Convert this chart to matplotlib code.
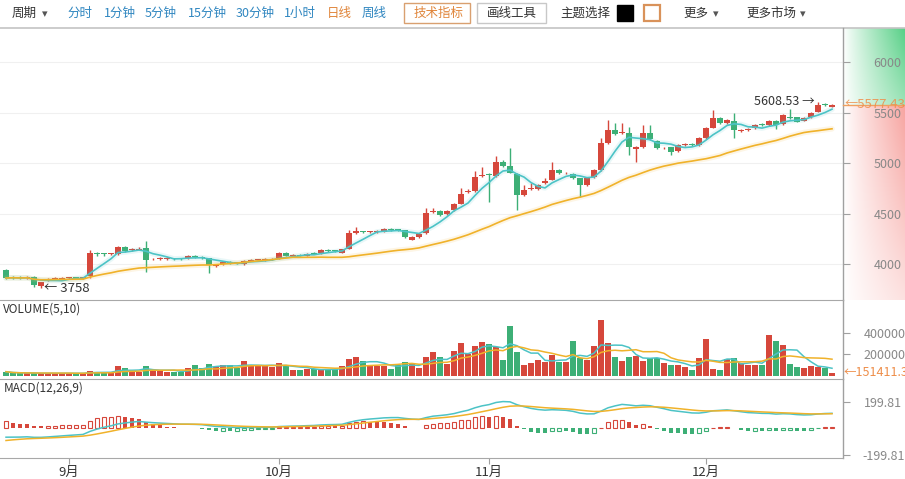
import numpy as np
import pandas as pd
import matplotlib
matplotlib.use("Agg")
import matplotlib.pyplot as plt
from matplotlib.patches import Rectangle
from matplotlib.lines import Line2D

plt.rcParams['font.family'] = ['Noto Sans CJK SC', 'DejaVu Sans']

# ---------------- data ----------------
opens = [3940, 3870, 3872, 3866, 3874, 3782, 3840, 3850, 3856, 3858,
         3860, 3858, 3880, 4100, 4098, 4096, 4096, 4170, 4135, 4142,
         4160, 4045, 4050, 4053, 4054, 4052, 4056, 4075, 4068, 4056,
         3985, 3997, 4015, 4010, 4002, 4033, 4038, 4040, 4042, 4056,
         4112, 4082, 4085, 4082, 4108, 4106, 4136, 4130, 4112, 4150,
         4310, 4318, 4314, 4316, 4322, 4345, 4340, 4335, 4242, 4266,
         4304, 4515, 4526, 4493, 4532, 4600, 4718, 4720, 4875, 4886,
         4873, 5016, 4972, 4890, 4684, 4740, 4741, 4805, 4838, 4933,
         4898, 4888, 4850, 4782, 4862, 4933, 5198, 5325, 5296, 5298,
         5136, 5163, 5296, 5224, 5146, 5158, 5121, 5181, 5183, 5181,
         5247, 5353, 5446, 5396, 5422, 5321, 5326, 5347, 5384, 5379,
         5419, 5386, 5450, 5456, 5422, 5456, 5512, 5580, 5560]
closes = [3861, 3866, 3858, 3868, 3792, 3818, 3848, 3856, 3858, 3860,
          3858, 3862, 4106, 4096, 4096, 4100, 4172, 4129, 4142, 4150,
          4040, 4050, 4056, 4056, 4052, 4050, 4079, 4070, 4060, 3994,
          3990, 4023, 4013, 4007, 4033, 4036, 4040, 4042, 4046, 4110,
          4080, 4085, 4084, 4104, 4104, 4139, 4132, 4128, 4145, 4312,
          4325, 4314, 4316, 4322, 4350, 4340, 4336, 4266, 4272, 4300,
          4508, 4520, 4488, 4526, 4595, 4692, 4722, 4863, 4880, 4882,
          5016, 4972, 4906, 4684, 4734, 4744, 4784, 4828, 4933, 4900,
          4902, 4852, 4780, 4850, 4930, 5198, 5329, 5285, 5310, 5163,
          5160, 5296, 5236, 5148, 5150, 5114, 5181, 5183, 5180, 5247,
          5353, 5446, 5396, 5429, 5329, 5323, 5329, 5379, 5380, 5419,
          5379, 5478, 5446, 5412, 5446, 5502, 5578, 5576, 5577.43]
highs = [3950, 3885, 3885, 3880, 3880, 3825, 3860, 3868, 3870, 3872,
         3870, 3872, 4139, 4115, 4112, 4112, 4180, 4175, 4155, 4165,
         4228, 4062, 4068, 4066, 4064, 4062, 4088, 4085, 4078, 4060,
         4000, 4030, 4025, 4020, 4040, 4048, 4052, 4055, 4058, 4118,
         4118, 4095, 4095, 4110, 4118, 4145, 4145, 4140, 4150, 4337,
         4370, 4330, 4328, 4334, 4360, 4355, 4348, 4340, 4278, 4306,
         4555, 4560, 4532, 4532, 4602, 4750, 4740, 4926, 4960, 4905,
         5071, 5030, 5148, 4900, 4780, 4800, 4795, 4850, 5015, 4940,
         4915, 4905, 4855, 4858, 4940, 5245, 5425, 5400, 5400, 5360,
         5170, 5379, 5379, 5235, 5165, 5165, 5190, 5198, 5196, 5255,
         5360, 5528, 5455, 5440, 5500, 5340, 5345, 5390, 5395, 5428,
         5425, 5490, 5535, 5462, 5455, 5510, 5608.53, 5600, 5590]
lows = [3850, 3855, 3850, 3855, 3769, 3758, 3835, 3845, 3848, 3850,
        3850, 3850, 3862, 4080, 4082, 4085, 4090, 4120, 4128, 4138,
        3924, 4035, 4042, 4042, 4040, 4038, 4050, 4060, 4050, 3908,
        3975, 3990, 4002, 3998, 3995, 4025, 4030, 4032, 4035, 4050,
        4075, 4072, 4075, 4076, 4096, 4100, 4122, 4120, 4105, 4145,
        4300, 4305, 4305, 4310, 4315, 4330, 4325, 4260, 4235, 4260,
        4298, 4505, 4480, 4488, 4525, 4595, 4705, 4714, 4868, 4620,
        4866, 4960, 4900, 4540, 4675, 4730, 4730, 4790, 4830, 4890,
        4888, 4845, 4668, 4775, 4855, 4925, 5190, 5278, 5290, 5083,
        5016, 5150, 5230, 5140, 5138, 5085, 5115, 5172, 5170, 5175,
        5240, 5345, 5390, 5390, 5250, 5310, 5315, 5340, 5368, 5372,
        5340, 5380, 5436, 5405, 5415, 5450, 5505, 5565, 5555]
volumes_k = [36, 21, 21, 21, 21, 21, 21, 21, 21, 21,
             21, 21, 46, 36, 25, 25, 93, 69, 36, 36,
             90, 46, 42, 36, 36, 36, 69, 100, 69, 110,
             78, 98, 100, 69, 138, 90, 90, 90, 78, 122,
             95, 52, 52, 58, 58, 58, 58, 58, 90, 157,
             173, 138, 95, 90, 90, 62, 100, 125, 116, 74,
             176, 221, 179, 110, 236, 307, 202, 281, 316, 297,
             269, 148, 471, 224, 100, 116, 148, 131, 195, 131,
             131, 331, 164, 148, 281, 522, 307, 179, 141, 179,
             188, 141, 164, 164, 116, 100, 100, 84, 52, 164,
             348, 59, 52, 154, 164, 116, 100, 100, 100, 386,
             331, 290, 110, 84, 74, 90, 84, 74, 21]

month_labels = ['9月', '10月', '11月', '12月']
month_index = [9, 39, 69, 100]
price_ticks = [4000, 4500, 5000, 5500, 6000]
volume_ticks = [200000, 400000]
macd_ticks = [-199.81, 199.81]
high_mark = (116, 5608.53)
low_mark = (5, 3758)
last_price = 5577.43
last_volume_label = '151411.3'
# MACD starting state read from the left edge of the MACD panel
ema12_start = 3925.0
ema26_start = 3994.0
dea_start = -94.0

# ---------------- derived ----------------
O = np.array(opens, float)
C = np.array(closes, float)
Hh = np.array(highs, float)
L = np.array(lows, float)
V = np.array(volumes_k, float) * 1000
n = len(C)
x = np.arange(n)
up = C >= O

RED = '#d6473b'
GREEN = '#3daf76'
CYAN = '#4cc3c6'
ORANGE = '#f0b22a'
cols = np.where(up, RED, GREEN)

ma5 = pd.Series(C).rolling(5, min_periods=1).mean().values
ma30 = pd.Series(C).rolling(30, min_periods=1).mean().values
vma5 = pd.Series(V).rolling(5, min_periods=1).mean().values
vma10 = pd.Series(V).rolling(10, min_periods=1).mean().values

e12 = np.zeros(n); e26 = np.zeros(n); dea = np.zeros(n)
e12[0], e26[0] = ema12_start, ema26_start
for i in range(1, n):
    e12[i] = e12[i-1] + (C[i] - e12[i-1]) * 2 / 13
    e26[i] = e26[i-1] + (C[i] - e26[i-1]) * 2 / 27
dif = e12 - e26
dea[0] = dea_start
for i in range(1, n):
    dea[i] = dea[i-1] + (dif[i] - dea[i-1]) * 2 / 10
hist = 2 * (dif - dea)

# ---------------- figure ----------------
W, H = 905, 479
fig = plt.figure(figsize=(W / 100, H / 100), dpi=100)
fig.patch.set_facecolor('white')


def box(x0, y0, x1, y1):
    return [x0 / W, 1 - y1 / H, (x1 - x0) / W, (y1 - y0) / H]


def fy(py):
    return 1 - py / H


ax_g = fig.add_axes(box(843, 28, 905, 300), zorder=0)
ax_p = fig.add_axes(box(0, 28, 843, 300), zorder=2)
ax_v = fig.add_axes(box(0, 300, 843, 379), zorder=2, sharex=ax_p)
ax_m = fig.add_axes(box(0, 379, 843, 458), zorder=2, sharex=ax_p)

P_MIN, P_MAX = 3643, 6341
ax_p.set_xlim(-0.857, 119.57)
ax_p.set_ylim(P_MIN, P_MAX)
ax_v.set_ylim(-33000, 714000)
ax_m.set_ylim(-226, 370)

# gradient on right price scale
gh, gw = 272, 62
frac = (last_price - P_MIN) / (P_MAX - P_MIN)
split = gh * (1 - frac)
t = np.linspace(0, 1, gw) ** 0.9
img = np.ones((gh, gw, 3))
green_c = np.array([60, 200, 115]) / 255
red_c = np.array([242, 110, 104]) / 255
for r in range(gh):
    if r < split:
        v = 0.85 - 0.35 * r / split
        c = green_c
    else:
        v = 0.62 - 0.42 * (r - split) / (gh - split)
        c = red_c
    a = (t * v)[:, None]
    img[r] = 1 - a * (1 - c)
ax_g.imshow(img, aspect='auto', extent=(0, 1, 0, 1), interpolation='bilinear')
ax_g.set_axis_off()

pads = {id(ax_p): 27, id(ax_v): 25, id(ax_m): 24}
for ax in (ax_p, ax_v, ax_m):
    for s in ('left', 'top', 'bottom'):
        ax.spines[s].set_visible(False)
    ax.spines['right'].set_color('#a0a0a0')
    ax.spines['right'].set_linewidth(1)
    ax.yaxis.tick_right()
    ax.tick_params(axis='y', direction='out', length=5, width=0.8, color='#a0a0a0',
                   labelcolor='#888888', labelsize=9, pad=pads[id(ax)])
    ax.patch.set_alpha(0)
ax_v.spines['top'].set_visible(True)
ax_v.spines['top'].set_color('#a8a8a8')
ax_m.spines['top'].set_visible(True)
ax_m.spines['top'].set_color('#a8a8a8')
ax_m.spines['bottom'].set_visible(True)
ax_m.spines['bottom'].set_color('#a8a8a8')

ax_p.tick_params(axis='x', bottom=False, labelbottom=False)
ax_v.tick_params(axis='x', bottom=False, labelbottom=False)

# price panel
ax_p.set_yticks(price_ticks)
ax_p.set_yticklabels([str(v) for v in price_ticks])
ax_p.grid(axis='y', color='#f0f0f0', linewidth=0.8)
ax_p.set_axisbelow(True)
ax_p.vlines(x, L, Hh, colors=cols, linewidth=1, zorder=2)
body_b = np.minimum(O, C)
body_h = np.maximum(np.abs(C - O), 9)
ax_p.bar(x, body_h, bottom=body_b, width=0.72, color=cols, linewidth=0, zorder=2)
ax_p.plot(x, ma5, color=CYAN, lw=4, alpha=0.12, zorder=3, solid_capstyle='round')
ax_p.plot(x, ma30, color=ORANGE, lw=4, alpha=0.12, zorder=3, solid_capstyle='round')
ax_p.plot(x, ma5, color=CYAN, lw=1.2, zorder=4)
ax_p.plot(x, ma30, color=ORANGE, lw=1.2, zorder=4)
ax_p.text(high_mark[0] - 0.45, high_mark[1], f'{high_mark[1]:.2f} →', ha='right', va='center',
          fontsize=9, color='#333333', zorder=5)
ax_p.text(low_mark[0] + 0.5, low_mark[1], f'← {low_mark[1]}', ha='left', va='center',
          fontsize=9.5, color='#333333', zorder=5)

# volume panel
ax_v.set_yticks(volume_ticks)
ax_v.set_yticklabels([str(v) for v in volume_ticks])
ax_v.bar(x, V, width=0.72, color=cols, linewidth=0, zorder=2)
ax_v.plot(x, vma5, color=CYAN, lw=1.1, zorder=3)
ax_v.plot(x, vma10, color=ORANGE, lw=1.1, zorder=3)
ax_v.text(0.004, 0.88, 'VOLUME(5,10)', transform=ax_v.transAxes, ha='left', va='center',
          fontsize=8.5, color='#333333')

# MACD panel
ax_m.set_yticks(macd_ticks)
ax_m.set_yticklabels([f'{v:.2f}' for v in macd_ticks])
prev = np.concatenate([[hist[0]], hist[:-1]])
for i in range(n):
    h = hist[i]
    colr = RED if h >= 0 else GREEN
    hollow = h >= prev[i]
    if hollow:
        ax_m.bar(i, h, width=0.6, facecolor='white', edgecolor=colr, linewidth=0.8, zorder=2)
    else:
        ax_m.bar(i, h, width=0.6, color=colr, linewidth=0, zorder=2)
ax_m.plot(x, dif, color=CYAN, lw=1.1, zorder=3)
ax_m.plot(x, dea, color=ORANGE, lw=1.1, zorder=3)
ax_m.text(0.004, 0.88, 'MACD(12,26,9)', transform=ax_m.transAxes, ha='left', va='center',
          fontsize=8.5, color='#333333')
ax_m.set_xticks(month_index)
ax_m.set_xticklabels(month_labels)
ax_m.tick_params(axis='x', direction='out', length=4, color='#a0a0a0', labelcolor='#333333',
                 labelsize=9.5, pad=2)

for ax in (ax_p, ax_v, ax_m):
    for lbl in ax.get_yticklabels():
        lbl.set_horizontalalignment('center')

# last price marker on scale
py_last = 28 + split
fig.add_artist(Line2D([843 / W, 1], [fy(py_last), fy(py_last)], color='#f0a060', lw=1, zorder=5))
fig.text(845 / W, fy(py_last), f'←{last_price:.2f}', ha='left', va='center', fontsize=9.5,
         color='#ee8e4a', alpha=0.85, zorder=6)
fig.text(844 / W, fy(373), f'←{last_volume_label}', ha='left', va='center', fontsize=9,
         color='#ee8e4a', zorder=6)

# ---------------- toolbar ----------------
fig.add_artist(Line2D([0, 1], [fy(27.5), fy(27.5)], color='#c4c4c4', lw=1.2))
BLUE = '#2f86c0'
TOOLC = '#e0853a'
ty = fy(13)
items = [('周期', 12, '#333333'), ('分时', 67, BLUE), ('1分钟', 104, BLUE), ('5分钟', 145, BLUE),
         ('15分钟', 188, BLUE), ('30分钟', 236, BLUE), ('1小时', 284, BLUE), ('日线', 327, TOOLC),
         ('周线', 362, BLUE), ('技术指标', 414, TOOLC), ('画线工具', 487, '#333333'),
         ('主题选择', 560, '#333333'), ('更多', 683, '#333333'), ('更多市场', 746, '#333333')]
for txt, px, c in items:
    fig.text(px / W, ty, txt, ha='left', va='center', fontsize=9, color=c)
for px in (42, 713, 800):
    fig.text(px / W, fy(14), '▾', ha='left', va='center', fontsize=8, color='#555555')
fig.add_artist(Rectangle((404 / W, fy(23)), 66 / W, 20 / H, transform=fig.transFigure,
                         facecolor='none', edgecolor='#d9a070', lw=1))
fig.add_artist(Rectangle((477 / W, fy(23)), 69 / W, 20 / H, transform=fig.transFigure,
                         facecolor='none', edgecolor='#c8c8c8', lw=1))
fig.add_artist(Rectangle((617 / W, fy(21)), 16 / W, 16 / H, transform=fig.transFigure,
                         facecolor='black', edgecolor='black', lw=1))
fig.add_artist(Rectangle((644 / W, fy(21)), 16 / W, 16 / H, transform=fig.transFigure,
                         facecolor='white', edgecolor='#d9925a', lw=1.6))

fig.savefig('out.png', dpi=100, facecolor='white')
